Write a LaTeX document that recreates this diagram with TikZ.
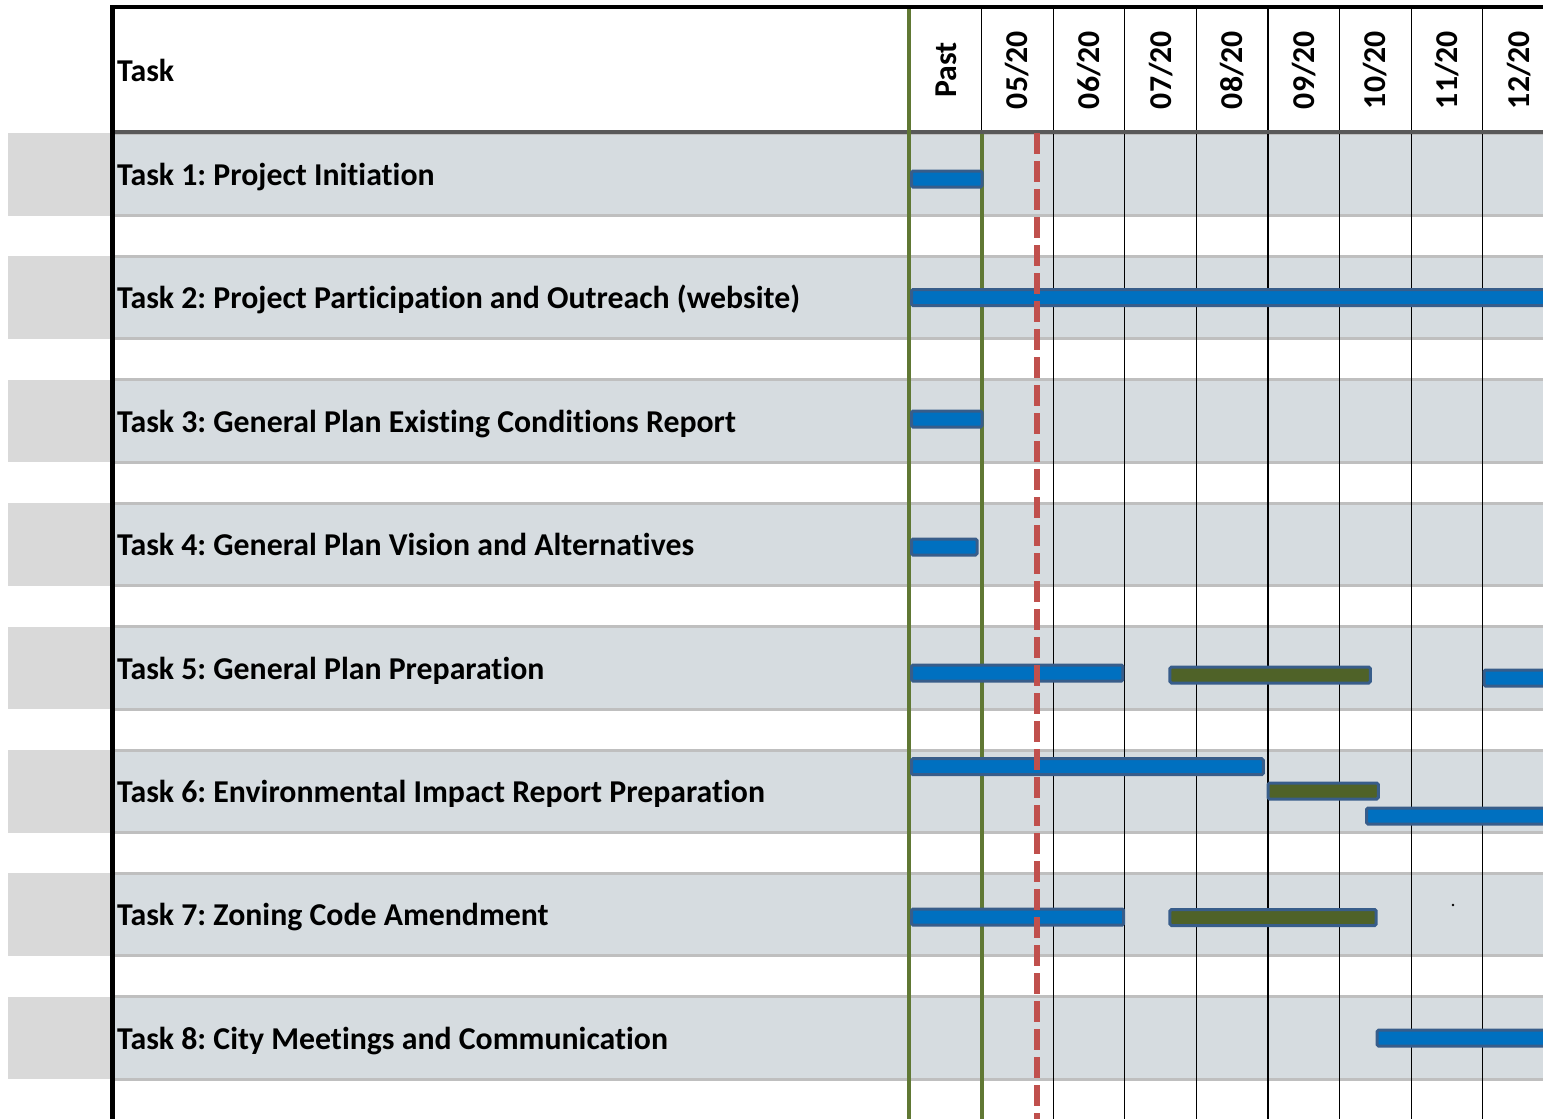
\documentclass[tikz,border=0pt]{standalone}
\usepackage{fontspec}
\setmainfont{Carlito}[Ligatures=NoCommon]
\usepackage{tikz}
\frenchspacing
\definecolor{bandgray}{RGB}{214,220,224}
\definecolor{sidegray}{RGB}{217,217,217}
\definecolor{rowline}{RGB}{191,191,191}
\definecolor{headline}{RGB}{89,89,89}
\definecolor{pastgreen}{RGB}{96,120,52}
\definecolor{todayred}{RGB}{192,80,77}
\definecolor{barblue}{RGB}{0,112,192}
\definecolor{bargreen}{RGB}{79,98,40}
\definecolor{baredge}{RGB}{56,93,138}

\begin{document}
\begin{tikzpicture}[x=1pt, y=-1pt,
  lbl/.style={anchor=base west, inner sep=0pt, font=\bfseries\fontsize{31.8}{36}\selectfont},
  month/.style={rotate=90, inner sep=0pt, font=\bfseries\fontsize{31.8}{36}\selectfont},
  bar/.style={draw=baredge, line width=3pt, rounded corners=1.5pt}]
\clip (0,0) rectangle (1543,1119);
\fill[white] (0,0) rectangle (1543,1119);

% Task rows: side box, shaded band, label
\foreach \i/\t in {1/Project Initiation, 2/Project Participation and Outreach (website),
    3/General Plan Existing Conditions Report, 4/General Plan Vision and Alternatives,
    5/General Plan Preparation, 6/Environmental Impact Report Preparation,
    7/Zoning Code Amendment, 8/City Meetings and Communication} {
    \pgfmathsetmacro\rtop{133+123.4*(\i-1)}
    \fill[sidegray] (8,\rtop) rectangle (112,\rtop+82.5);
    \fill[bandgray] (112,\rtop) rectangle (1543,\rtop+82.5);
    \draw[rowline, line width=3pt] (112,\rtop) -- (1543,\rtop);
    \draw[rowline, line width=3pt] (112,\rtop+82.5) -- (1543,\rtop+82.5);
    \node[lbl] (task\i) at (117,\rtop+52.5) {Task \i: \t};
}

% Month columns
\foreach \k in {1,...,8} {
    \draw[line width=1.2pt] (910+71.6*\k,7) -- (910+71.6*\k,1119);
}
\foreach \m [count=\k from 0] in {Past,05/20,06/20,07/20,08/20,09/20,10/20,11/20,12/20} {
    \node[month] (col\k) at (945.8+71.6*\k,70) {\m};
}
\node[lbl] (head) at (117,81) {Task};
\draw[headline, line width=4pt] (112,132) -- (1543,132);

% Past markers
\draw[pastgreen, line width=4pt] (909,7) -- (909,1119);
\draw[pastgreen, line width=4pt] (981.6,134) -- (981.6,1119);

% Bars: start/end/centre/fill
\foreach \a/\b/\c/\f in {910/983.6/179/barblue, 910/1560/297.5/barblue,
    910/983.6/419/barblue, 910/978.5/547/barblue,
    910/1124.4/673/barblue, 1168.4/1371.8/675/bargreen, 1482.5/1560/678/barblue,
    910/1264.8/766.7/barblue, 1266.5/1379.8/791/bargreen, 1365/1560/816/barblue,
    910/1125.2/917/barblue, 1168.4/1377.7/917.5/bargreen,
    1375.6/1560/1038/barblue} {
    \draw[bar, fill=\f] (\a+1.5,\c-8) rectangle (\b-1.5,\c+8);
}
\fill (1453,905) circle (1.3);

% Today line
\draw[todayred, line width=6pt, dash pattern=on 21pt off 7pt] (1036.5,133) -- (1036.5,1119);

% Table frame
\draw[line width=4.5pt] (112.5,1119) -- (112.5,7) -- (1543,7);
\end{tikzpicture}
\end{document}
